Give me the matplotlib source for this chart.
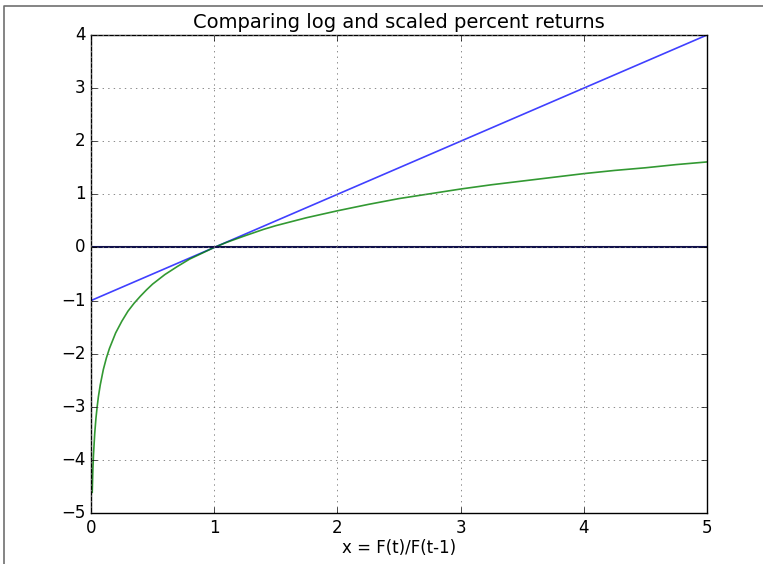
import numpy as np
import matplotlib

matplotlib.use("Agg")
import matplotlib.pyplot as plt
from matplotlib.lines import Line2D

plt.style.use("classic")

# ---------- data ----------
# scaled percent return: x - 1
pct_x = [0.0, 5.0]
pct_y = [-1.0, 4.0]

# log return: log(x)
log_x = [0.01, 0.015, 0.02, 0.03, 0.04, 0.05, 0.06, 0.075, 0.1, 0.125, 0.15,
         0.2, 0.25, 0.3, 0.35, 0.4, 0.45, 0.5, 0.6, 0.7, 0.8, 0.9, 1.0,
         1.1, 1.25, 1.4, 1.5, 1.75, 2.0, 2.25, 2.5, 2.75, 3.0, 3.25, 3.5,
         3.75, 4.0, 4.25, 4.5, 4.75, 5.0]
log_y = [-4.61, -4.20, -3.91, -3.51, -3.22, -3.00, -2.81, -2.59, -2.30, -2.08, -1.90,
         -1.61, -1.39, -1.20, -1.05, -0.92, -0.80, -0.69, -0.51, -0.36, -0.22, -0.11, 0.0,
         0.095, 0.22, 0.34, 0.41, 0.56, 0.69, 0.81, 0.92, 1.01, 1.10, 1.18, 1.25,
         1.32, 1.39, 1.45, 1.50, 1.56, 1.61]

# zero reference line
zero_x = [0.0, 5.0]
zero_y = [0.0, 0.0]

fig = plt.figure(figsize=(7.63, 5.64), dpi=100, facecolor="white")
ax = fig.add_axes([91 / 763, 1 - 513 / 564, (707 - 91) / 763, (513 - 35) / 564])

ax.plot(pct_x, pct_y, color="blue", alpha=0.75, linewidth=1.2)
ax.plot(log_x, log_y, color="green", alpha=0.8, linewidth=1.2)
ax.plot(zero_x, zero_y, color="#10104a", linewidth=1.5)

ax.set_xlim(0, 5)
ax.set_ylim(-5, 4)
ax.set_xticks(range(0, 6))
ax.set_yticks(range(-5, 5))
ax.grid(True, color="#777777", linestyle=":", linewidth=0.6)
ax.tick_params(labelsize=12)
ax.set_xlabel("x = F(t)/F(t-1)", fontsize=12, labelpad=2)
ax.set_title("Comparing log and scaled percent returns", fontsize=14)

# thin outer frame seen on the left and top edges of the reference
fig.add_artist(Line2D([4 / 763, 4 / 763, 1.0], [0.0, 1 - 6 / 564, 1 - 6 / 564],
                      transform=fig.transFigure, color="#707070", linewidth=1.2))

fig.savefig("out.png", dpi=100, facecolor="white")
